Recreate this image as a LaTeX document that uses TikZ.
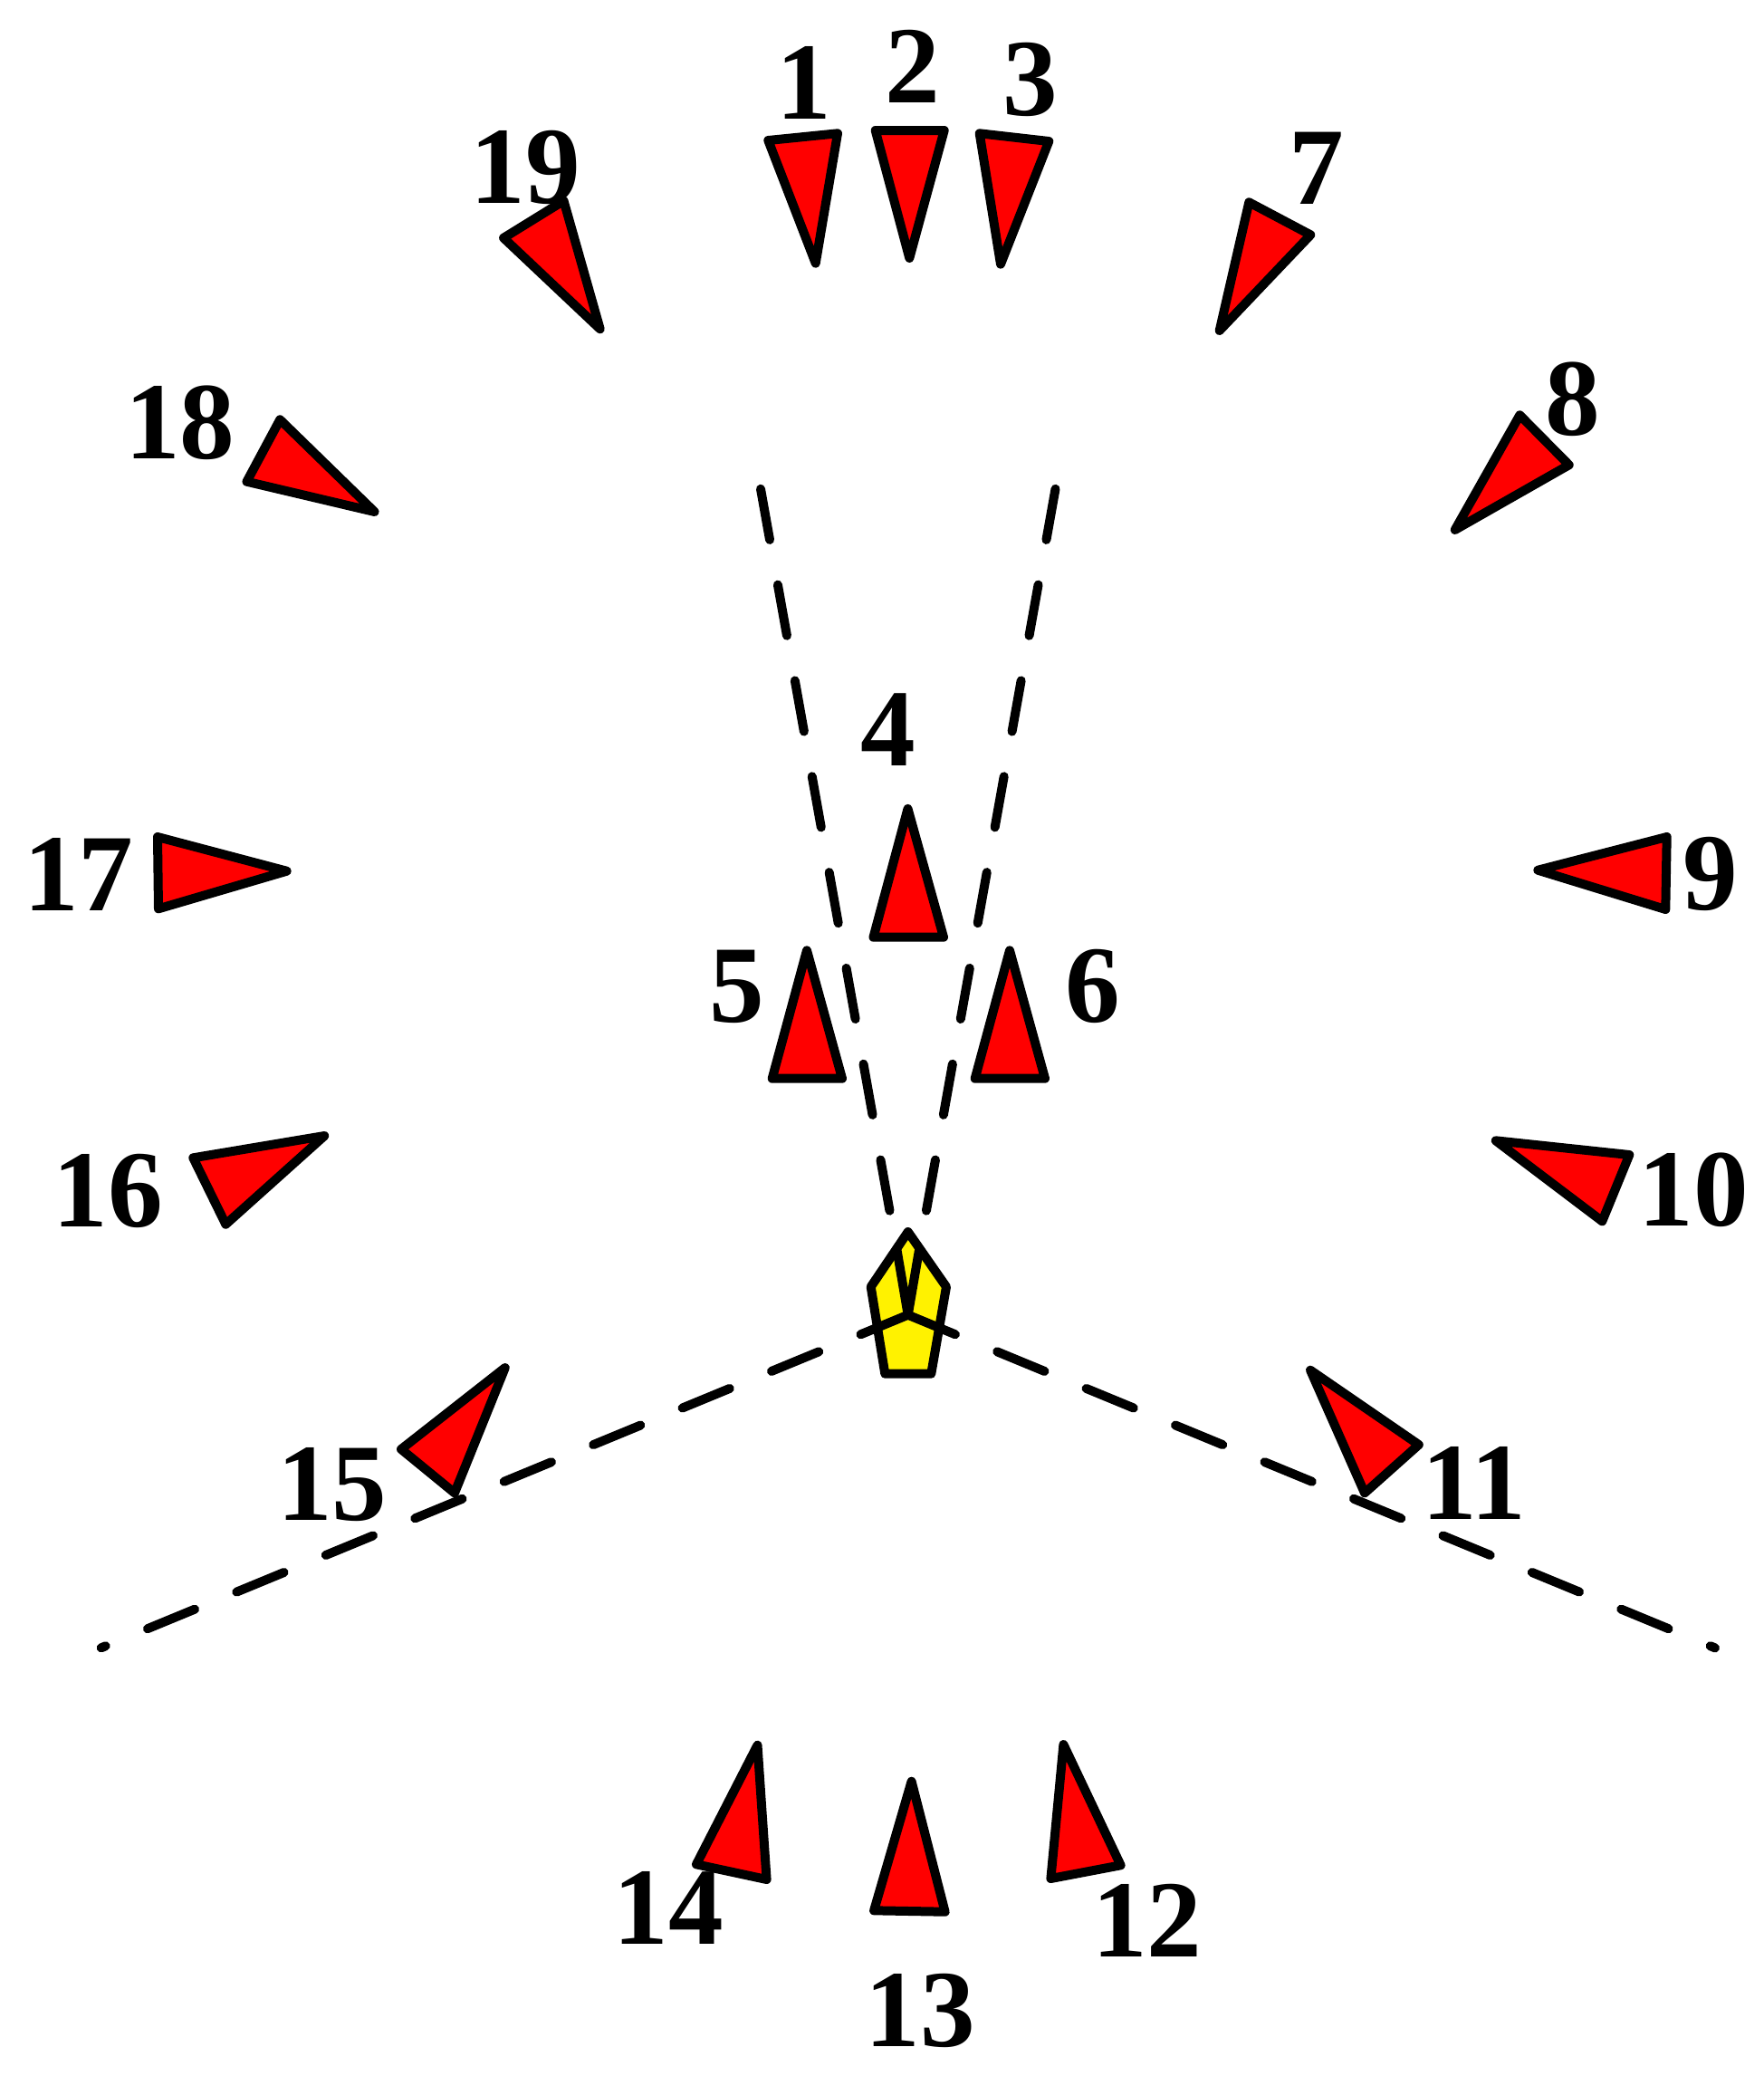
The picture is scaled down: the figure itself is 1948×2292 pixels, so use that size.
\documentclass[tikz,border=0pt]{standalone}
\usepackage{fontspec}
\setmainfont{Liberation Serif}
\begin{document}
\begin{tikzpicture}[x=0.1mm,y=-0.1mm,
  tri/.style={draw=black,fill=red,line width=1.0mm,line join=round},
  pent/.style={draw=black,fill=yellow,line width=1.0mm,line join=round},
  inner/.style={draw=black,line width=1.0mm,line join=round,line cap=round},
  dline/.style={draw=black,line width=1.0mm,line cap=round,dash pattern=on 5.65mm off 5.0mm},
  uline/.style={draw=black,line width=1.0mm,line cap=round,dash pattern=on 5.7mm off 5.05mm},
  lab/.style={inner sep=0pt,font=\fontsize{34.5}{40}\selectfont\bfseries}]
\useasboundingbox[fill=white] (0,0) rectangle (1948,2292);
% key points
\coordinate (C) at (1002.7,1451.7);
\coordinate (LLend) at (111.7,1819.3);
\coordinate (LRend) at (1894,1819.4);
\coordinate (ULtop) at (840,539.8);
\coordinate (ULbot) at (982.5,1336.8);
\coordinate (URtop) at (1165.5,539.8);
\coordinate (URbot) at (1022.9,1336.8);
% pentagon
\draw[pent] (1002.7,1360) -- (1045,1420.7) -- (1028.3,1516.7) -- (977.3,1516.7) -- (961.7,1420.7) -- cycle;
\draw[inner] (990.5,1380) -- (C) -- (1015,1380);
% dashed lines
\draw[dline] (C) -- (LLend);
\draw[dline] (C) -- (LRend);
\draw[uline] (ULtop) -- (ULbot);
\draw[uline] (URtop) -- (URbot);
% triangles
\draw[tri] (848.3,155) -- (925,147.3) -- (900.7,290.7) -- cycle;   % 1
\draw[tri] (966.7,144) -- (1042.7,144) -- (1004.3,285) -- cycle;   % 2
\draw[tri] (1081.7,147.3) -- (1158.3,156) -- (1105,291.7) -- cycle; % 3
\draw[tri] (1002.5,892.9) -- (1042,1034.7) -- (964.5,1034.7) -- cycle; % 4
\draw[tri] (891,1049.3) -- (930,1190.7) -- (852.7,1190.7) -- cycle; % 5
\draw[tri] (1115,1049.3) -- (1154,1190.7) -- (1076.7,1190.7) -- cycle; % 6
\draw[tri] (1379.3,223.3) -- (1447.3,259.3) -- (1346.7,365) -- cycle; % 7
\draw[tri] (1678.3,458.3) -- (1732.7,513.3) -- (1606.7,585) -- cycle; % 8
\draw[tri] (1840.7,924) -- (1839.3,1004) -- (1698.3,960.7) -- cycle; % 9
\draw[tri] (1651.7,1259.3) -- (1799.3,1275) -- (1769.3,1348.3) -- cycle; % 10
\draw[tri] (1447,1512.7) -- (1566.8,1595) -- (1507,1648.3) -- cycle; % 11
\draw[tri] (1174.4,1926) -- (1237.6,2059.3) -- (1160.4,2074) -- cycle; % 12
\draw[tri] (1006.6,1966.7) -- (1043.6,2110.7) -- (965.1,2109.3) -- cycle; % 13
\draw[tri] (836.5,1926.7) -- (846.6,2075) -- (769,2058.3) -- cycle; % 14
\draw[tri] (557.8,1510) -- (502,1648.3) -- (443,1600) -- cycle; % 15
\draw[tri] (213.3,1278.3) -- (358.3,1254) -- (249.3,1351.7) -- cycle; % 16
\draw[tri] (174,924) -- (316.7,961.7) -- (175,1003.3) -- cycle; % 17
\draw[tri] (309.2,463.3) -- (413.6,565) -- (272.5,531.7) -- cycle; % 18
\draw[tri] (556.1,262.7) -- (622.5,221.7) -- (662.7,363.3) -- cycle; % 19
% labels
\node[lab] (n1) at (887.5,91.7) {1};
\node[lab] (n2) at (1008,73) {2};
\node[lab] (n3) at (1137.5,87.5) {3};
\node[lab] (n4) at (980.8,805.8) {4};
\node[lab] (n5) at (814.2,1089.7) {5};
\node[lab] (n6) at (1206.7,1089.2) {6};
\node[lab] (n7) at (1454,186) {7};
\node[lab] (n8) at (1737,441) {8};
\node[lab] (n9) at (1888.3,964.7) {9};
\node[lab] (n10) at (1870,1313.3) {10};
\node[lab] (n11) at (1628,1637.5) {11};
\node[lab] (n12) at (1266.8,2120.3) {12};
\node[lab] (n13) at (1016.6,2219.5) {13};
\node[lab] (n14) at (738.5,2106.2) {14};
\node[lab] (n15) at (366.7,1639) {15};
\node[lab] (n16) at (119.2,1315.3) {16};
\node[lab] (n17) at (87,965) {17};
\node[lab] (n18) at (198.9,467.2) {18};
\node[lab] (n19) at (580.4,185) {19};
\end{tikzpicture}
\end{document}
